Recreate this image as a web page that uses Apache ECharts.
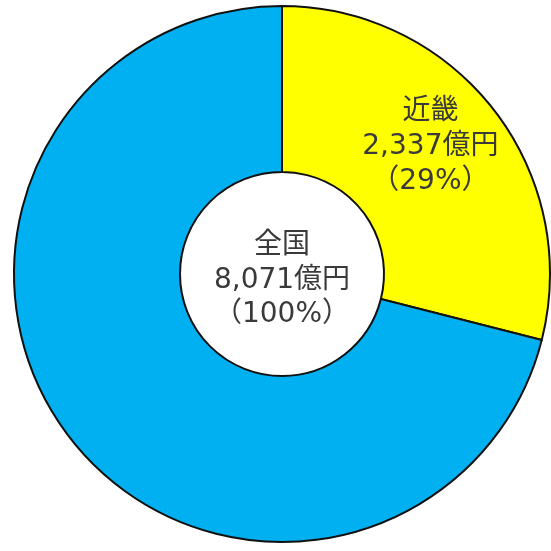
<!DOCTYPE html>
<html><head><meta charset="utf-8">
<script src="https://cdn.jsdelivr.net/npm/echarts@6/dist/echarts.min.js"></script>
<style>html,body{margin:0;padding:0;background:#fff}#c{width:551px;height:551px}</style>
</head><body><div id="c"></div>
<script>
const categories = ['近畿', 'その他'];
const values = [2337, 5734];
const totalLabel = '全国';
const colors = ['#FFFF00', '#00B0F0'];

const total = values.reduce((a, b) => a + b, 0);
const fmt = n => String(n).replace(/\B(?=(\d{3})+(?!\d))/g, ',');
const font = '"DejaVu Sans", "Noto Sans CJK JP", sans-serif';
const t = s => '{t|' + s + '}';

const data = categories.map((c, i) => {
  const d = { name: c, value: values[i], itemStyle: { color: colors[i] } };
  if (i === 0) {
    d.label = {
      show: true, position: 'inside',
      formatter: [t(c), t(fmt(values[i]) + '億円'), t('（' + Math.round(values[i] / total * 100) + '%）'), '{gap1|}'].join('\n')
    };
  } else {
    d.label = {
      show: true, position: 'center',
      formatter: ['{gap2|}', t(totalLabel), '{m|' + fmt(total) + '億円}', '{m|（100%）}'].join('\n')
    };
  }
  return d;
});

const chart = echarts.init(document.getElementById('c'), null, { renderer: 'canvas' });
chart.setOption({
  animation: false,
  series: [{
    type: 'pie',
    center: [282, 274],
    radius: [102, 268],
    startAngle: 90,
    clockwise: true,
    avoidLabelOverlap: false,
    itemStyle: { borderColor: '#111', borderWidth: 2 },
    label: {
      color: '#3a3a3a', fontSize: 28, fontFamily: font, align: 'center',
      rich: {
        t: { color: '#3a3a3a', fontSize: 28, fontFamily: font, lineHeight: 35, align: 'center' },
        m: { color: '#3a3a3a', fontSize: 28, fontFamily: font, lineHeight: 34, align: 'center' },
        gap1: { lineHeight: 24, fontSize: 1 },
        gap2: { lineHeight: 12, fontSize: 1 }
      }
    },
    labelLine: { show: false },
    emphasis: { disabled: true },
    data: data
  }]
});
</script></body></html>
